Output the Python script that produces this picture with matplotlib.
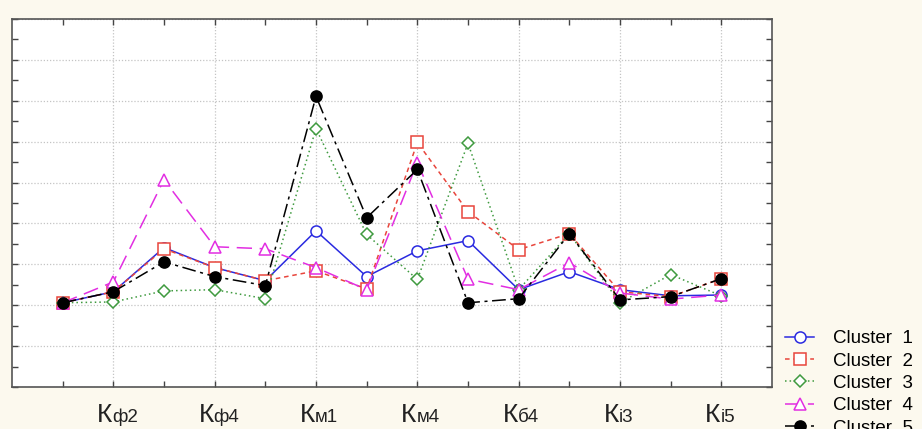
import matplotlib
matplotlib.use("Agg")
import matplotlib.pyplot as plt
from matplotlib.ticker import MultipleLocator
import numpy as np

# category axis: 14 indicators, every other one labelled
label_positions = [1, 3, 5, 7, 9, 11, 13]
label_heads = ["К", "К", "К", "К", "К", "К", "К"]
label_tails = ["ф2", "ф4", "м1", "м4", "б4", "і3", "і5"]
n_points = 14

# cluster profiles (grid units)
cluster1 = [2.06, 2.33, 3.41, 2.92, 2.60, 3.82, 2.70, 3.33, 3.58, 2.38, 2.82, 2.38, 2.23, 2.25]
cluster2 = [2.06, 2.33, 3.38, 2.92, 2.60, 2.84, 2.40, 5.98, 4.29, 3.36, 3.75, 2.33, 2.21, 2.65]
cluster3 = [2.06, 2.08, 2.35, 2.38, 2.16, 6.32, 3.73, 2.63, 5.96, 2.38, 3.75, 2.06, 2.75, 2.23]
cluster4 = [2.06, 2.57, 5.07, 3.43, 3.38, 2.92, 2.38, 5.49, 2.64, 2.38, 3.04, 2.30, 2.15, 2.25]
cluster5 = [2.06, 2.33, 3.06, 2.70, 2.48, 7.11, 4.14, 5.32, 2.06, 2.16, 3.75, 2.13, 2.21, 2.65]
cluster_names = ["Cluster  1", "Cluster  2", "Cluster  3", "Cluster  4", "Cluster  5"]

styles = [
    dict(color="#2a2ae0", linestyle="-", marker="o", mfc="white"),
    dict(color="#e8453c", linestyle=(0, (3, 2.5)), marker="s", mfc="white"),
    dict(color="#3f9a3f", linestyle=(0, (1, 2)), marker="D", mfc="white", markersize=6.5),
    dict(color="#e22ee2", linestyle=(0, (10, 5)), marker="^", mfc="white"),
    dict(color="black", linestyle=(0, (9, 3, 2, 3)), marker="o", mfc="black"),
]

fig = plt.figure(figsize=(9.22, 4.29), dpi=100, facecolor="#fcf9ee")
ax = fig.add_axes([12 / 922, 1 - 387 / 429, 760 / 922, 368 / 429])
ax.set_facecolor("white")

x = np.arange(n_points)
handles = []
for values, name, st in zip([cluster1, cluster2, cluster3, cluster4, cluster5], cluster_names, styles):
    st = dict(st)
    ms = st.pop("markersize", 8)
    h, = ax.plot(x, values, linewidth=1.1, markersize=ms, markeredgewidth=1.1,
                 markeredgecolor=st["color"], label=name, **st)
    handles.append(h)

ax.set_xlim(-1, n_points)
ax.set_ylim(0, 9)
ax.set_xticks(label_positions)
ax.set_xticks([i for i in range(n_points) if i not in label_positions], minor=True)
ax.yaxis.set_major_locator(MultipleLocator(1))
ax.yaxis.set_minor_locator(MultipleLocator(0.5))
ax.tick_params(which="both", direction="in", top=True, right=True,
               labelbottom=False, labelleft=False, color="#444444", width=1)
ax.tick_params(which="major", length=4)
ax.tick_params(which="minor", length=4)
ax.grid(True, which="major", linestyle=(0, (1, 1.5)), color="#c4c4c4", linewidth=0.9)
for sp in ax.spines.values():
    sp.set_color("#555555")
    sp.set_linewidth(1.2)

# two-size tick labels, e.g. "К" + small "ф2"
trans = ax.get_xaxis_transform()
for pos, head, tail in zip(label_positions, label_heads, label_tails):
    ax.text(pos - 0.02, -0.095, head, transform=trans, ha="right", va="baseline",
            fontsize=19, family="Liberation Sans", color="#222222")
    ax.text(pos - 0.02, -0.095, tail, transform=trans, ha="left", va="baseline",
            fontsize=13.5, family="Liberation Sans", color="#222222")

fig.legend(handles=handles, loc="upper left", bbox_to_anchor=(785 / 922, 1 - 330 / 429),
           frameon=False, handlelength=1.55, handletextpad=1.0,
           labelspacing=0.28, borderaxespad=0, borderpad=0,
           prop={"family": "Liberation Sans", "size": 13.5})

fig.savefig("out.png", dpi=100, facecolor=fig.get_facecolor())
